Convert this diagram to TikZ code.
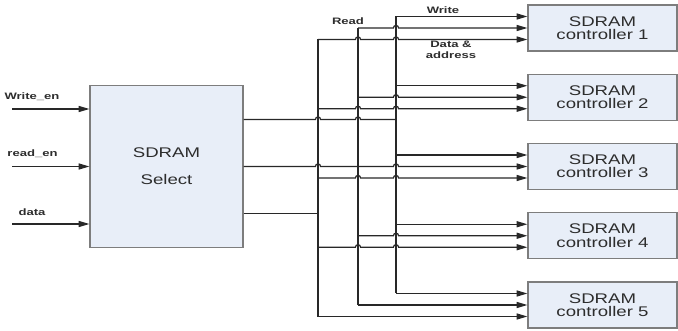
\documentclass[tikz,border=0pt]{standalone}
\usepackage{fontspec}
\usetikzlibrary{arrows.meta,calc}
\newfontfamily\boxfont[FakeStretch=1.33]{Liberation Sans}
\newfontfamily\labfont[FakeStretch=1.4]{Liberation Sans Bold}
\definecolor{boxfill}{RGB}{232,238,248}
\definecolor{boxline}{RGB}{125,125,125}
\definecolor{wirecol}{RGB}{40,40,40}
\definecolor{txt}{RGB}{45,45,45}
% a small bridge where a horizontal wire jumps over the vertical bus #1
\newcommand\hop[2]{-- ($(#1 |- #2)+(-2.6,0)$) arc[start angle=180,end angle=0,radius=1.95pt]}
\begin{document}
\begin{tikzpicture}[x=0.75pt,y=-0.75pt,
  blk/.style={draw=boxline,fill=boxfill,line width=0.9pt,inner sep=0pt,text=txt,
    font=\boxfont\fontsize{10.5}{10}\selectfont,align=center},
  ctrl/.style={blk,minimum width=111.75pt,minimum height=34.5pt},
  wire/.style={draw=wirecol,line width=0.9pt},
  arr/.style={wire,-{Triangle[length=8pt,width=4.5pt]}},
  lab/.style={text=txt,font=\labfont\fontsize{7}{8.3}\selectfont,inner sep=0pt,align=center},
]
\useasboundingbox (0,0) rectangle (678,331);

% selector block
\node[blk,minimum width=114.75pt,minimum height=121.5pt] (sel) at (166.5,166.5)
  {SDRAM\\[10pt]Select};

% controller blocks and their three input points
\foreach \k/\y in {1/28,2/97.25,3/166.5,4/235.75,5/305}{
  \node[ctrl] (c\k) at (602.5,\y) {SDRAM\\controller \k};
  \coordinate (w\k) at ($(c\k.west)+(0,-11.5)$);
  \coordinate (r\k) at (c\k.west);
  \coordinate (d\k) at ($(c\k.west)+(0,11.5)$);
}

% bus positions
\coordinate (db) at (318,0);
\coordinate (rb) at (358,0);
\coordinate (wb) at (396,0);

% inputs of the selector
\coordinate (si1) at ($(sel.west)+(0,-57.5)$);
\coordinate (si2) at (sel.west);
\coordinate (si3) at ($(sel.west)+(0,57.5)$);
\foreach \i in {1,2,3}{
  \coordinate (in\i) at ($(si\i)+(-77,0)$);
  \draw[arr] (in\i) -- (si\i);
}
\node[lab] (lwe) at (32,97) {Write\_en};
\node[lab] (lre) at (32.5,154) {read\_en};
\node[lab] (ldt) at (32,212) {data};

% outputs of the selector
\coordinate (so1) at ($(sel.east)+(0,-47)$);
\coordinate (so2) at (sel.east);
\coordinate (so3) at ($(sel.east)+(0,47)$);

% vertical buses
\draw[wire] (wb |- w1) -- (wb |- w5);
\draw[wire] (rb |- r1) -- (rb |- r5);
\draw[wire] (db |- d1) -- (db |- d5);

% selector to buses
\draw[wire] (so1) \hop{db}{so1} \hop{rb}{so1} -- (wb |- so1);
\draw[wire] (so2) \hop{db}{so2} -- (rb |- so2);
\draw[wire] (so3) -- (db |- so3);

% buses to controllers
\foreach \k in {1,2,3,4}{
  \draw[arr] (wb |- w\k) -- (w\k);
  \draw[arr] (rb |- r\k) \hop{wb}{r\k} -- (r\k);
  \draw[arr] (db |- d\k) \hop{rb}{d\k} \hop{wb}{d\k} -- (d\k);
}
\draw[arr] (wb |- w5) -- (w5);
\draw[arr] (rb |- r5) -- (r5);
\draw[arr] (db |- d5) -- (d5);

% bus labels
\node[lab] (lread) at (348,21) {Read};
\node[lab] (lwrite) at (443,10) {Write};
\node[lab] (ldata) at (451,49.5) {Data \&\\address};
\end{tikzpicture}
\end{document}
